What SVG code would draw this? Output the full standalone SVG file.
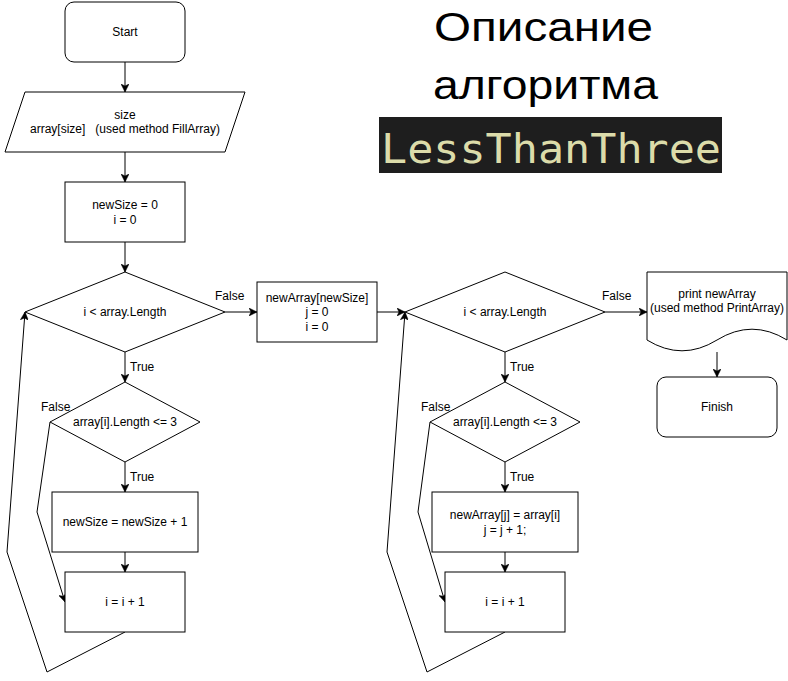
<svg xmlns="http://www.w3.org/2000/svg" width="788" height="681" viewBox="0 0 788 681">
<style>
.s{fill:#fff;stroke:#000;stroke-width:1}
.e{fill:none;stroke:#000;stroke-width:1}
.t{font-family:"Liberation Sans",Arial,Helvetica,sans-serif;font-size:12px;fill:#000;text-anchor:middle}
.l{font-family:"Liberation Sans",Arial,Helvetica,sans-serif;font-size:12px;fill:#000}
.h{font-family:"Liberation Sans",Arial,Helvetica,sans-serif;font-size:40px;fill:#000;text-anchor:middle}
.m{font-family:"DejaVu Sans Mono","Liberation Mono",monospace;font-size:40px;fill:#DCDCAA}
</style>
<defs>
<marker id="a" markerUnits="userSpaceOnUse" markerWidth="8" markerHeight="8" viewBox="0 0 8 8" refX="8" refY="4" orient="auto">
<path d="M0,0 L8,4 L0,8 L2,4 Z" fill="#000" stroke="#000" stroke-width="0.5"/>
</marker>
</defs>
<rect width="788" height="681" fill="#fff"/>

<g id="title">
<text class="h" x="543.5" y="41" textLength="219" lengthAdjust="spacingAndGlyphs">Описание</text>
<text class="h" x="545.5" y="99" textLength="225" lengthAdjust="spacingAndGlyphs">алгоритма</text>
<rect x="379" y="117" width="343" height="56" fill="#1E1E1E"/>
<text class="m" x="381" y="163" textLength="340" lengthAdjust="spacingAndGlyphs">LessThanThree</text>
</g>

<g id="connectors">
<path class="e" marker-end="url(#a)" d="M125,62 V92"/>
<path class="e" marker-end="url(#a)" d="M125,152 V182"/>
<path class="e" marker-end="url(#a)" d="M125,242 V272"/>
<path class="e" marker-end="url(#a)" d="M125,352 V382"/>
<path class="e" marker-end="url(#a)" d="M125,462 V492"/>
<path class="e" marker-end="url(#a)" d="M125,552 V572"/>
<path class="e" marker-end="url(#a)" d="M50,422 L37,512 L65,602"/>
<path class="e" marker-end="url(#a)" d="M125,632 L47,672 L7,552 L25,312"/>
<path class="e" marker-end="url(#a)" d="M225,312 H257"/>
<path class="e" marker-end="url(#a)" d="M377,312 H405"/>
<path class="e" marker-end="url(#a)" d="M505,352 V382"/>
<path class="e" marker-end="url(#a)" d="M505,462 V492"/>
<path class="e" marker-end="url(#a)" d="M505,552 V572"/>
<path class="e" marker-end="url(#a)" d="M430,422 L418,512 L445,602"/>
<path class="e" marker-end="url(#a)" d="M505,632 L427,672 L387,552 L405,312"/>
<path class="e" marker-end="url(#a)" d="M605,312 H647"/>
<path class="e" marker-end="url(#a)" d="M717,352 V377"/>
<text class="l" x="215" y="300">False</text>
<text class="l" x="130" y="371">True</text>
<text class="l" x="41" y="411">False</text>
<text class="l" x="130" y="481">True</text>
<text class="l" x="602" y="300">False</text>
<text class="l" x="510" y="371">True</text>
<text class="l" x="421" y="411">False</text>
<text class="l" x="510" y="481">True</text>
</g>

<g id="start">
<rect class="s" x="65" y="2" width="120" height="60" rx="9"/>
<text class="t" x="125" y="36">Start</text>
</g>

<g id="input">
<path class="s" d="M25,92 H245 L225,152 H5 Z"/>
<text class="t" x="125" y="119">size</text>
<text class="t" x="125" y="133" xml:space="preserve" style="white-space:pre">array[size]   (used method FillArray)</text>
</g>

<g id="init1">
<rect class="s" x="65" y="182" width="120" height="60"/>
<text class="t" x="125" y="209">newSize = 0</text>
<text class="t" x="125" y="223.5">i = 0</text>
</g>

<g id="cond1">
<path class="s" d="M125,272 L225,312 L125,352 L25,312 Z"/>
<text class="t" x="125" y="316">i &lt; array.Length</text>
</g>

<g id="check1">
<path class="s" d="M125,382 L200,422 L125,462 L50,422 Z"/>
<text class="t" x="125" y="426">array[i].Length &lt;= 3</text>
</g>

<g id="inc1">
<rect class="s" x="52" y="492" width="146" height="60"/>
<text class="t" x="125" y="526">newSize = newSize + 1</text>
</g>

<g id="step1">
<rect class="s" x="65" y="572" width="120" height="60"/>
<text class="t" x="125" y="606">i = i + 1</text>
</g>

<g id="init2">
<rect class="s" x="257" y="282" width="120" height="60"/>
<text class="t" x="317" y="302">newArray[newSize]</text>
<text class="t" x="317" y="316">j = 0</text>
<text class="t" x="317" y="331">i = 0</text>
</g>

<g id="cond2">
<path class="s" d="M505,272 L605,312 L505,352 L405,312 Z"/>
<text class="t" x="505" y="316">i &lt; array.Length</text>
</g>

<g id="check2">
<path class="s" d="M505,382 L580,422 L505,462 L430,422 Z"/>
<text class="t" x="505" y="426">array[i].Length &lt;= 3</text>
</g>

<g id="copy">
<rect class="s" x="432" y="492" width="146" height="60"/>
<text class="t" x="505" y="519">newArray[j] = array[i]</text>
<text class="t" x="505" y="533.5">j = j + 1;</text>
</g>

<g id="step2">
<rect class="s" x="445" y="572" width="120" height="60"/>
<text class="t" x="505" y="606">i = i + 1</text>
</g>

<g id="output">
<path class="s" d="M647,272 H787 V340 Q752,318.4 717,340 Q682,361.6 647,340 Z"/>
<text class="t" x="717" y="297.5">print newArray</text>
<text class="t" x="717" y="312">(used method PrintArray)</text>
</g>

<g id="finish">
<rect class="s" x="657" y="377" width="120" height="60" rx="9"/>
<text class="t" x="717" y="411">Finish</text>
</g>
</svg>
